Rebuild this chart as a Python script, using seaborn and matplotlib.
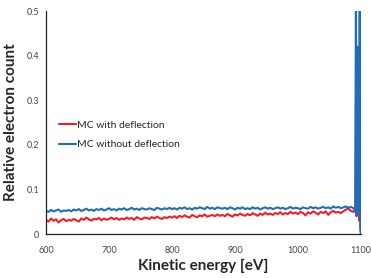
import numpy as np
import pandas as pd
import matplotlib
matplotlib.use('Agg')
import matplotlib.pyplot as plt
import seaborn as sns

# baseline grid (eV) and the peak region near 1100 eV
energy_base = list(range(600, 1089, 4))
energy_peak = [1090, 1091, 1092, 1093, 1094, 1095, 1096, 1097, 1098, 1099, 1100]

without_base = [
    0.052, 0.050, 0.054, 0.051, 0.053, 0.055, 0.050, 0.053, 0.052, 0.054,
    0.051, 0.055, 0.053, 0.056, 0.052, 0.054, 0.057, 0.053, 0.055, 0.052,
    0.056, 0.054, 0.057, 0.053, 0.055, 0.058, 0.054, 0.056, 0.053, 0.057,
    0.055, 0.058, 0.054, 0.056, 0.059, 0.055, 0.057, 0.054, 0.058, 0.056,
    0.055, 0.058, 0.056, 0.054, 0.059, 0.057, 0.055, 0.058, 0.056, 0.059,
    0.056, 0.058, 0.055, 0.059, 0.057, 0.060, 0.056, 0.058, 0.055, 0.059,
    0.057, 0.060, 0.058, 0.056, 0.061, 0.057, 0.059, 0.056, 0.060, 0.058,
    0.057, 0.059, 0.056, 0.060, 0.058, 0.055, 0.059, 0.057, 0.060, 0.056,
    0.058, 0.056, 0.060, 0.057, 0.059, 0.055, 0.058, 0.060, 0.057, 0.059,
    0.056, 0.058, 0.060, 0.057, 0.059, 0.056, 0.058, 0.061, 0.057, 0.059,
    0.058, 0.056, 0.060, 0.058, 0.057, 0.061, 0.058, 0.060, 0.057, 0.059,
    0.061, 0.058, 0.060, 0.057, 0.062, 0.059, 0.061, 0.058, 0.060, 0.062,
    0.059, 0.061, 0.058,
]
without_peak = [0.055, 0.052, 0.60, 0.04, 0.42, 0.30, 0.42, 0.05, 0.60, 0.02, 0.0]

with_base = [
    0.032, 0.028, 0.035, 0.030, 0.033, 0.026, 0.031, 0.034, 0.029, 0.032,
    0.030, 0.034, 0.031, 0.028, 0.035, 0.032, 0.037, 0.033, 0.030, 0.034,
    0.033, 0.036, 0.031, 0.035, 0.032, 0.034, 0.037, 0.033, 0.036, 0.032,
    0.035, 0.033, 0.037, 0.034, 0.036, 0.032, 0.038, 0.035, 0.033, 0.037,
    0.036, 0.034, 0.038, 0.035, 0.039, 0.036, 0.034, 0.038, 0.036, 0.039,
    0.037, 0.040, 0.036, 0.041, 0.038, 0.042, 0.039, 0.037, 0.043, 0.040,
    0.038, 0.042, 0.040, 0.044, 0.039, 0.041, 0.043, 0.040, 0.044, 0.041,
    0.043, 0.040, 0.045, 0.042, 0.039, 0.044, 0.042, 0.046, 0.043, 0.041,
    0.045, 0.042, 0.047, 0.044, 0.041, 0.046, 0.043, 0.048, 0.044, 0.046,
    0.043, 0.047, 0.045, 0.049, 0.044, 0.047, 0.045, 0.050, 0.046, 0.048,
    0.045, 0.050, 0.047, 0.042, 0.049, 0.046, 0.051, 0.048, 0.044, 0.050,
    0.047, 0.051, 0.043, 0.049, 0.052, 0.048, 0.050, 0.047, 0.051, 0.055,
    0.057, 0.052, 0.050,
]
with_peak = [0.053, 0.050, 0.29, 0.05, 0.40, 0.10, 0.42, 0.03, 0.28, 0.01, 0.0]

x_ticks = [600, 700, 800, 900, 1000, 1100]
y_ticks = [0, 0.1, 0.2, 0.3, 0.4, 0.5]
y_tick_labels = ['0', '0.1', '0.2', '0.3', '0.4', '0.5']

sns.set_style('white')
plt.rcParams['font.family'] = ['Lato', 'DejaVu Sans']

energy = energy_base + energy_peak
df = pd.DataFrame({
    'energy': energy * 2,
    'count': with_base + with_peak + without_base + without_peak,
    'series': ['MC with deflection'] * len(energy) + ['MC without deflection'] * len(energy),
})

fig = plt.figure(figsize=(3.71, 2.78), dpi=100)
ax = fig.add_axes([0.124, 0.158, 0.849, 0.802])

sns.lineplot(data=df, x='energy', y='count', hue='series', sort=False,
             palette={'MC with deflection': '#ee2028', 'MC without deflection': '#1f6fb4'},
             linewidth=1.5, ax=ax, estimator=None)

ax.set_xlim(600, 1100)
ax.set_ylim(0, 0.5)
ax.set_xticks(x_ticks)
ax.set_yticks(y_ticks)
ax.set_yticklabels(y_tick_labels)
ax.tick_params(axis='both', labelsize=6.5, labelcolor='#444444', length=3,
               direction='inout', width=0.8, colors='#333333')
ax.tick_params(axis='x', pad=7)
for side in ['top', 'right']:
    ax.spines[side].set_visible(False)
for side in ['left', 'bottom']:
    ax.spines[side].set_color('#222222')
    ax.spines[side].set_linewidth(0.9)

ax.set_xlabel('Kinetic energy [eV]', fontsize=11, fontweight='bold', labelpad=3)
ax.set_ylabel('Relative electron count', fontsize=11, fontweight='bold', labelpad=6)

leg = ax.legend(loc='upper left', bbox_to_anchor=(0.01, 0.55), frameon=False,
                fontsize=7.5, handlelength=1.7, handletextpad=0.1, labelspacing=0.95)

fig.savefig('out.png', dpi=100)
